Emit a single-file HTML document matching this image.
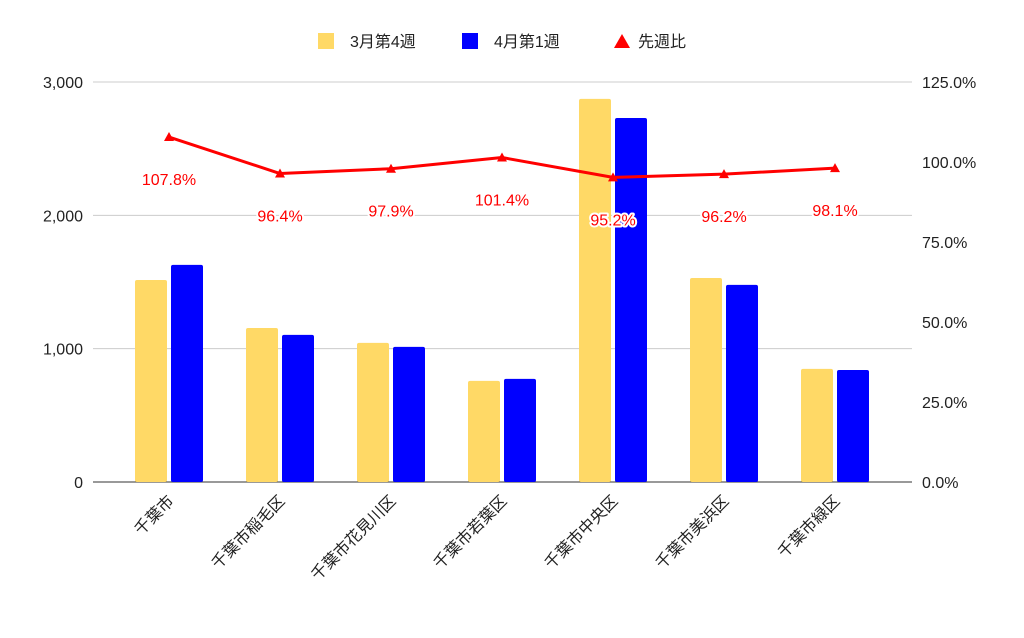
<!DOCTYPE html>
<html><head><meta charset="utf-8"><style>
body{margin:0;background:#fff;}
svg text{font-family:"Liberation Sans","Noto Sans CJK JP",sans-serif;}
</style></head><body>
<svg id="chart" width="1024" height="633" xmlns="http://www.w3.org/2000/svg">
<rect width="1024" height="633" fill="#fff"/>
<g id="legend">
  <rect x="318" y="33" width="16" height="16" fill="#ffd966"/>
  <text x="350" y="47" font-size="16" fill="#222">3月第4週</text>
  <rect x="462" y="33" width="16" height="16" fill="#0000ff"/>
  <text x="494" y="47" font-size="16" fill="#222">4月第1週</text>
  <path d="M614 48 L622 34 L630 48 Z" fill="#ff0000"/>
  <text x="638" y="47" font-size="16" fill="#222">先週比</text>
</g>
<g id="grid"></g><g id="bars"></g><g id="line"></g><g id="axes"></g>
</svg>
<script>
const categories=["千葉市","千葉市稲毛区","千葉市花見川区","千葉市若葉区","千葉市中央区","千葉市美浜区","千葉市緑区"];
const march=[1515,1155,1043,758,2873,1530,848];
const april=[1628,1103,1013,773,2730,1478,840];
const ratio=[107.8,96.4,97.9,101.4,95.2,96.2,98.1];
const leftTicks=[0,1000,2000,3000];
const leftTickLabels=["0","1,000","2,000","3,000"];
const rightTicks=[0,25,50,75,100,125];
const rightTickLabels=["0.0%","25.0%","50.0%","75.0%","100.0%","125.0%"];

const NS="http://www.w3.org/2000/svg";
const x0=113.5,step=111,yBase=482,yTop=82;
const yL=v=>yBase-(v/3000)*(yBase-yTop);
const yR=v=>yBase-(v/125)*(yBase-yTop);
const xC=i=>x0+step*(i+0.5);
function mk(tag,attrs,parent,txt){const e=document.createElementNS(NS,tag);for(const k in attrs)e.setAttribute(k,attrs[k]);if(txt!==undefined)e.textContent=txt;document.getElementById(parent).appendChild(e);return e;}

leftTicks.forEach((t,i)=>{
  const g=mk("line",{x1:93,x2:912,y1:yL(t),y2:yL(t),stroke:t===0?"#333":"#ccc","stroke-width":1},"grid");
  
  
  const l=mk("text",{x:83,y:yL(t)+6,"font-size":16,fill:"#222","text-anchor":"end"},"axes",leftTickLabels[i]);
  
  
});
rightTicks.forEach((t,i)=>{
  const l=mk("text",{x:922,y:yR(t)+6,"font-size":16,fill:"#222"},"axes",rightTickLabels[i]);
  
  
});
categories.forEach((c,i)=>{
  const cx=xC(i);
  const b1=mk("rect",{x:cx-34,y:yL(march[i]),width:32,height:yBase-yL(march[i]),fill:"#ffd966",rx:2},"bars");
  
  
  const b2=mk("rect",{x:cx+2,y:yL(april[i]),width:32,height:yBase-yL(april[i]),fill:"#0000ff",rx:2},"bars");
  
  
  const t=mk("text",{transform:`translate(${cx+6},${yBase+20}) rotate(-45)`,"font-size":16,fill:"#222","text-anchor":"end"},"axes",c);
  
  
});
const pts=ratio.map((r,i)=>xC(i)+","+yR(r)).join(" ");
const pl=mk("polyline",{points:pts,fill:"none",stroke:"#ff0000","stroke-width":3,"stroke-linejoin":"round"},"line");


ratio.forEach((r,i)=>{
  const cx=xC(i),cy=yR(r);
  const m=mk("path",{d:`M${cx-5} ${cy+4} L${cx} ${cy-5} L${cx+5} ${cy+4} Z`,fill:"#ff0000"},"line");
  
  
  const lb=mk("text",{x:cx,y:cy+48,"font-size":16,fill:"#ff0000","text-anchor":"middle",stroke:"#fff","stroke-width":4,"paint-order":"stroke","stroke-linejoin":"round"},"line",r.toFixed(1)+"%");
  
  
});
</script>
</body></html>
